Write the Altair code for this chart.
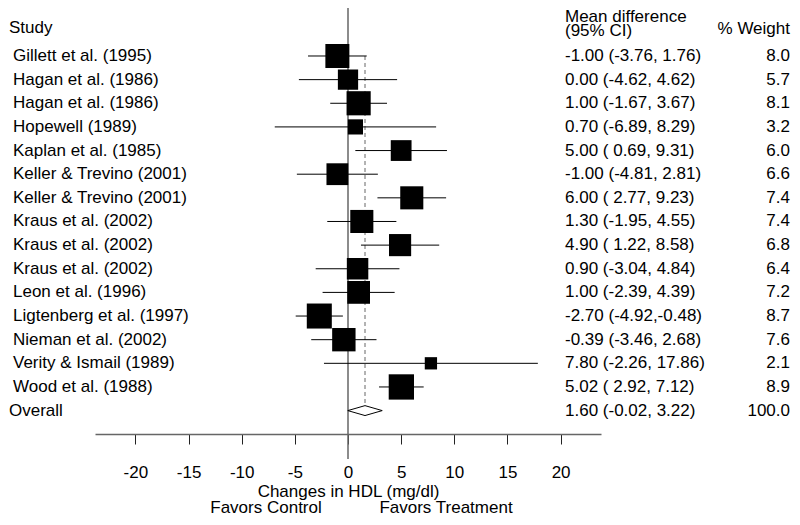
import altair as alt
import pandas as pd

studies = ["Gillett et al. (1995)", "Hagan et al. (1986)", "Hagan et al. (1986)",
           "Hopewell (1989)", "Kaplan et al. (1985)", "Keller & Trevino (2001)",
           "Keller & Trevino (2001)", "Kraus et al. (2002)", "Kraus et al. (2002)",
           "Kraus et al. (2002)", "Leon et al. (1996)", "Ligtenberg et al. (1997)",
           "Nieman et al. (2002)", "Verity & Ismail (1989)", "Wood et al. (1988)"]
means = [-1.00, 0.00, 1.00, 0.70, 5.00, -1.00, 6.00, 1.30, 4.90, 0.90, 1.00, -2.70, -0.39, 7.80, 5.02]
lows = [-3.76, -4.62, -1.67, -6.89, 0.69, -4.81, 2.77, -1.95, 1.22, -3.04, -2.39, -4.92, -3.46, -2.26, 2.92]
highs = [1.76, 4.62, 3.67, 8.29, 9.31, 2.81, 9.23, 4.55, 8.58, 4.84, 4.39, -0.48, 2.68, 17.86, 7.12]
weights = [8.0, 5.7, 8.1, 3.2, 6.0, 6.6, 7.4, 7.4, 6.8, 6.4, 7.2, 8.7, 7.6, 2.1, 8.9]
NB = "\u00a0"
ci_labels = ["-1.00 (-3.76, 1.76)", "0.00 (-4.62, 4.62)", NB + "1.00 (-1.67, 3.67)",
             NB + "0.70 (-6.89, 8.29)", NB + "5.00 ( 0.69, 9.31)", "-1.00 (-4.81, 2.81)",
             NB + "6.00 ( 2.77, 9.23)", NB + "1.30 (-1.95, 4.55)", NB + "4.90 ( 1.22, 8.58)",
             NB + "0.90 (-3.04, 4.84)", NB + "1.00 (-2.39, 4.39)", "-2.70 (-4.92,-0.48)",
             "-0.39 (-3.46, 2.68)", NB + "7.80 (-2.26, 17.86)", NB + "5.02 ( 2.92, 7.12)"]
weight_labels = ["8.0", "5.7", "8.1", "3.2", "6.0", "6.6", "7.4", "7.4", "6.8", "6.4",
                 "7.2", "8.7", "7.6", "2.1", "8.9"]

overall_name = "Overall"
overall_mean = 1.60
overall_low = -0.02
overall_high = 3.22
overall_ci_label = NB + "1.60 (-0.02, 3.22)"
overall_weight_label = "100.0"

x_ticks = [-20, -15, -10, -5, 0, 5, 10, 15, 20]
x_title = "Changes in HDL (mg/dl)"
left_note = "Favors Control"
right_note = "Favors Treatment"

FONT = "Liberation Sans"
FS = 17
W, H = 506, 426
n = len(studies)
overall_row = n + 1
half_diamond = 0.21

df = pd.DataFrame({
    "study": studies, "mean": means, "low": lows, "high": highs,
    "weight": weights, "ci": ci_labels, "wlab": weight_labels,
    "row": list(range(1, n + 1)),
})
ov = pd.DataFrame({"study": [overall_name], "mean": [overall_mean], "low": [overall_low],
                   "high": [overall_high], "ci": [overall_ci_label],
                   "wlab": [overall_weight_label], "row": [overall_row]})
diamond = pd.DataFrame({
    "x": [overall_low, overall_mean, overall_high],
    "y": [overall_row, overall_row - half_diamond, overall_row],
    "y2": [overall_row, overall_row + half_diamond, overall_row],
})
dash = pd.DataFrame({"x": [overall_mean], "y": [1], "y2": [overall_row - half_diamond]})
zero = pd.DataFrame({"x": [0]})

xs = alt.Scale(domain=[-23.8, 23.8], nice=False, zero=False)
ys = alt.Scale(domain=[-1.03, 16.99], reverse=True, nice=False, zero=False)

xaxis = alt.Axis(values=x_ticks, title=x_title, grid=False, domainColor="#666666",
                 domainWidth=1.5, tickColor="#222222", tickWidth=1, tickSize=10,
                 labelPadding=28, labelBaseline="middle", labelFont=FONT,
                 labelFontSize=FS, labelColor="black", labelFlush=False,
                 labelExpr="'' + datum.value",
                 titleFont=FONT, titleFontSize=FS, titleFontWeight="normal",
                 titleColor="black", titleX=W / 2, titleY=57, titleBaseline="middle",
                 titleAlign="center")

zero_line = alt.Chart(zero).mark_rule(color="#666666", strokeWidth=1.5).encode(
    x=alt.X("x:Q", scale=xs, axis=xaxis), y=alt.value(0), y2=alt.value(451))

dash_line = alt.Chart(dash).mark_rule(color="#666666", strokeWidth=1, strokeDash=[4, 3]).encode(
    x=alt.X("x:Q", scale=xs), y=alt.Y("y:Q", scale=ys, axis=None), y2="y2:Q")

ci = alt.Chart(df).mark_rule(color="black", strokeWidth=1).encode(
    x=alt.X("low:Q", scale=xs), x2="high:Q", y=alt.Y("row:Q", scale=ys, axis=None))

boxes = alt.Chart(df).mark_square(color="black", opacity=1, filled=True).encode(
    x=alt.X("mean:Q", scale=xs), y=alt.Y("row:Q", scale=ys, axis=None),
    size=alt.Size("weight:Q", scale=alt.Scale(type="linear", domain=[0, 10], range=[0, 720]),
                  legend=None))

dia = alt.Chart(diamond).mark_area(fill="white", stroke="black", strokeWidth=1,
                                   opacity=1).encode(
    x=alt.X("x:Q", scale=xs), y=alt.Y("y:Q", scale=ys, axis=None), y2="y2:Q")

txt = dict(font=FONT, fontSize=FS, color="black", baseline="middle")

names = alt.Chart(df).mark_text(align="left", **txt).encode(
    x=alt.value(-82), y=alt.Y("row:Q", scale=ys, axis=None), text="study:N")
ov_name = alt.Chart(ov).mark_text(align="left", **txt).encode(
    x=alt.value(-86), y=alt.Y("row:Q", scale=ys, axis=None), text="study:N")
allrows = pd.concat([df[["ci", "wlab", "row"]], ov[["ci", "wlab", "row"]]])
ci_text = alt.Chart(allrows).mark_text(align="left", **txt).encode(
    x=alt.value(470), y=alt.Y("row:Q", scale=ys, axis=None), text="ci:N")
w_text = alt.Chart(allrows).mark_text(align="right", **txt).encode(
    x=alt.value(695), y=alt.Y("row:Q", scale=ys, axis=None), text="wlab:N")

headers = pd.DataFrame({
    "t": ["Study", "Mean difference", "(95% CI)", "% Weight"],
    "px": [-86, 470, 470, 695], "py": [19.5, 9, 23, 21],
    "al": ["left", "left", "left", "right"],
})
head_left = alt.Chart(headers[headers.al == "left"]).mark_text(align="left", **txt).encode(
    x=alt.X("px:Q", scale=None), y=alt.Y("py:Q", scale=None), text="t:N")
head_right = alt.Chart(headers[headers.al == "right"]).mark_text(align="right", **txt).encode(
    x=alt.X("px:Q", scale=None), y=alt.Y("py:Q", scale=None), text="t:N")

notes = alt.Chart(pd.DataFrame({"t": [left_note, right_note], "px": [171, 351]})).mark_text(
    align="center", **txt).encode(x=alt.X("px:Q", scale=None), y=alt.value(500), text="t:N")

chart = alt.layer(zero_line, dash_line, ci, boxes, dia, names, ov_name, ci_text, w_text,
                  head_left, head_right, notes).properties(
    width=W, height=H,
    autosize=alt.AutoSizeParams(type="none"),
    padding={"left": 87, "top": 0, "right": 191, "bottom": 83},
).configure(font=FONT, view=alt.ViewConfig(stroke=None))

chart.save("out.html", embed_options={"renderer": "svg", "actions": False})
